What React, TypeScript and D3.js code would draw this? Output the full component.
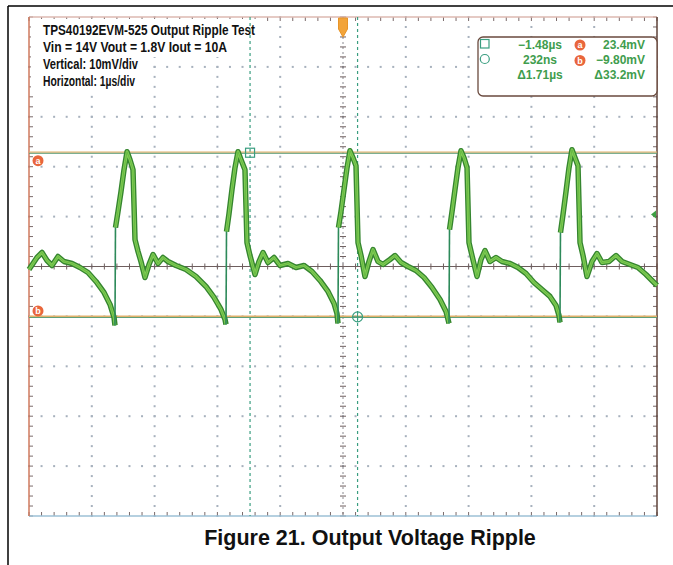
import * as d3 from 'd3';

const W = 673;
const H = 565;
const SCREEN = { left: 29, right: 657, top: 17, bottom: 516 };

// scope settings: 1 µs/div, 10 mV/div, 10 x 10 divisions
const timeDomain: [number, number] = [-5, 5];
const voltDomain: [number, number] = [-50, 50];

const titleLines = [
  'TPS40192EVM-525 Output Ripple Test',
  'Vin = 14V  Vout = 1.8V  Iout = 10A',
  'Vertical: 10mV/div',
  'Horizontal: 1µs/div',
];
const caption = 'Figure 21. Output Voltage Ripple';

// cursors as placed on screen (time in µs, level in mV)
const cursorTimes = [-1.48, 0.232];
const cursorLevels = [22.8, -10.1];
const cursorNames = ['a', 'b'];
const readoutTime = ['\u22121.48µs', '232ns', '\u03941.71µs'];
const readoutVolt = ['23.4mV', '\u22129.80mV', '\u039433.2mV'];

// output ripple trace [µs, mV]
const trace: [number, number][] = [
  [-5.0, -0.6], [-4.936, 0.6], [-4.873, 1.8], [-4.793, 2.8], [-4.713, 1.2], [-4.634, 0.2],
  [-4.538, 2.0], [-4.443, 1.0], [-4.315, 0.6], [-4.188, -0.2], [-4.061, -1.2], [-3.933, -3.0],
  [-3.806, -5.2], [-3.71, -7.6], [-3.646, -10.2], [-3.631, -11.8],
  [-3.623, 7.8], [-3.583, 11.0], [-3.535, 15.0], [-3.487, 19.4], [-3.439, 23.0], [-3.392, 21.4],
  [-3.344, 19.4], [-3.312, 5.4], [-3.264, 3.0], [-3.217, 1.0], [-3.153, -2.2], [-3.089, 0.4],
  [-3.025, 2.4], [-2.946, 0.6], [-2.866, 1.8], [-2.787, 1.0], [-2.659, 0.2], [-2.5, -0.6],
  [-2.341, -2.0], [-2.182, -4.0], [-2.054, -6.2], [-1.943, -8.6], [-1.879, -10.6], [-1.863, -11.6],
  [-1.855, 7.0], [-1.815, 10.6], [-1.768, 15.4], [-1.72, 19.8], [-1.672, 23.0], [-1.624, 21.4],
  [-1.561, 19.4], [-1.529, 4.8], [-1.481, 2.2], [-1.401, -1.6], [-1.338, 1.0], [-1.274, 2.8],
  [-1.194, 0.8], [-1.099, 1.8], [-1.003, 0.2], [-0.876, 0.6], [-0.748, -0.2], [-0.621, 0.2],
  [-0.494, -1.0], [-0.366, -2.8], [-0.239, -5.0], [-0.143, -7.4], [-0.096, -9.4], [-0.08, -11.4],
  [-0.072, 7.8], [-0.032, 11.0], [0.016, 15.4], [0.064, 19.8], [0.111, 23.2], [0.159, 21.8],
  [0.207, 20.2], [0.239, 4.8], [0.287, 2.2], [0.35, -2.0], [0.414, 1.0], [0.478, 3.4],
  [0.557, 1.0], [0.637, 0.4], [0.748, 1.4], [0.828, 2.2], [0.924, 0.8], [1.035, 0.0],
  [1.162, -0.8], [1.29, -2.2], [1.417, -4.2], [1.545, -6.6], [1.64, -9.0], [1.688, -11.4],
  [1.696, 7.4], [1.736, 11.0], [1.783, 15.4], [1.831, 19.8], [1.879, 23.2], [1.927, 21.8],
  [1.975, 19.8], [2.006, 4.8], [2.054, 2.2], [2.134, -2.0], [2.197, 1.4], [2.261, 3.2],
  [2.341, 1.0], [2.436, 1.8], [2.532, 1.0], [2.659, 0.6], [2.787, -0.2], [2.914, -1.4],
  [3.041, -3.2], [3.169, -4.6], [3.296, -6.0], [3.392, -7.8], [3.439, -9.8], [3.455, -11.2],
  [3.463, 6.8], [3.503, 10.4], [3.551, 15.0], [3.599, 19.8], [3.646, 23.4], [3.694, 21.8],
  [3.742, 20.2], [3.774, 4.8], [3.822, 2.2], [3.885, -2.0], [3.965, 1.0], [4.045, 2.6],
  [4.124, 0.8], [4.236, 1.0], [4.347, 2.2], [4.443, 1.0], [4.57, 0.4], [4.697, -0.2],
  [4.825, -1.6], [4.92, -2.8], [5.0, -3.8],
];

const ORANGE = '#e9663c';
const CURSOR = '#3a9e80';
const READOUT = '#3f9d4e';

const App = () => {
  const x = d3.scaleLinear().domain(timeDomain).range([SCREEN.left, SCREEN.right]);
  const y = d3.scaleLinear().domain(voltDomain).range([SCREEN.bottom, SCREEN.top]);

  const majorX = d3.range(-5, 6, 1);
  const majorY = d3.range(-50, 60, 10);
  const minorX = d3.range(0, 51).map(i => -5 + i * 0.2);
  const minorY = d3.range(0, 51).map(i => -50 + i * 2);

  const x0 = x(0);
  const y0 = y(0);

  // split the trace at the switching edges: the band is drawn thick, edges thin
  const isEdge = (p: [number, number], n?: [number, number]) => !!n && n[0] - p[0] < 0.02 && n[1] - p[1] > 10;
  const pieces: [number, number][][] = [[]];
  trace.forEach((p, i) => {
    pieces[pieces.length - 1].push(p);
    if (isEdge(p, trace[i + 1])) pieces.push([]);
  });
  const edges = trace
    .map((p, i) => [p, trace[i + 1]] as [number, number][])
    .filter(([p, n]) => isEdge(p, n));

  const line = d3.line<[number, number]>().x(d => x(d[0])).y(d => y(d[1]));

  const dots: JSX.Element[] = [];
  majorX.filter(t => t !== 0 && Math.abs(t) !== 5).forEach(t => {
    minorY.forEach((v, j) => {
      dots.push(<rect key={`vx${t}_${j}`} x={x(t) - 1} y={y(v) - 1} width={2} height={2} fill="#a7b1bd" />);
    });
  });
  majorY.filter(v => v !== 0 && Math.abs(v) !== 50).forEach(v => {
    minorX.forEach((t, j) => {
      dots.push(<rect key={`hy${v}_${j}`} x={x(t) - 1} y={y(v) - 1} width={2} height={2} fill="#a7b1bd" />);
    });
  });

  const titleWidths = [212, 184, 95, 92];

  return (
    <svg width={W} height={H} style={{ position: 'absolute', left: 0, top: 0, background: '#fff' }}>
      {/* page frame */}
      <line x1={8} x2={W} y1={6} y2={6} stroke="#000" strokeWidth={1.5} />
      <line x1={8} x2={8} y1={6} y2={H} stroke="#000" strokeWidth={1.5} />

      {/* graticule */}
      <g>{dots}</g>

      {/* center axes */}
      <line x1={SCREEN.left} x2={SCREEN.right} y1={y0} y2={y0} stroke="#6e5e5e" strokeWidth={1} />
      {minorX.map((t, i) => (
        <line key={`cx${i}`} x1={x(t)} x2={x(t)} y1={y0 - 3} y2={y0 + 3} stroke="#6e5e5e" strokeWidth={1} />
      ))}
      <line x1={x0} x2={x0} y1={SCREEN.top} y2={SCREEN.bottom} stroke="#8a8a90" strokeWidth={1} strokeDasharray="2,3" />
      {minorY.map((v, i) => (
        <line key={`cy${i}`} x1={x0 - 3} x2={x0 + 3} y1={y(v)} y2={y(v)} stroke="#6e5e5e" strokeWidth={1} />
      ))}

      {/* border ticks */}
      {minorY.map((v, i) => (
        <g key={`by${i}`} stroke="#7a6a6a" strokeWidth={1}>
          <line x1={SCREEN.left} x2={SCREEN.left + 4} y1={y(v)} y2={y(v)} />
          <line x1={SCREEN.right - 4} x2={SCREEN.right} y1={y(v)} y2={y(v)} />
        </g>
      ))}
      {minorX.map((t, i) => (
        <g key={`bx${i}`} stroke="#7a6a6a" strokeWidth={1}>
          <line x1={x(t)} x2={x(t)} y1={SCREEN.top} y2={SCREEN.top + 4} />
          <line x1={x(t)} x2={x(t)} y1={SCREEN.bottom - 4} y2={SCREEN.bottom} />
        </g>
      ))}
      <line x1={SCREEN.left} x2={SCREEN.right} y1={SCREEN.top} y2={SCREEN.top} stroke="#dcb8b0" strokeWidth={1.5} />
      <line x1={SCREEN.left} x2={SCREEN.right} y1={SCREEN.bottom} y2={SCREEN.bottom} stroke="#9cc0d6" strokeWidth={1.5} />
      <line x1={SCREEN.left} x2={SCREEN.left} y1={SCREEN.top} y2={SCREEN.bottom} stroke="#cf7a5e" strokeWidth={1.5} />
      <line x1={SCREEN.right} x2={SCREEN.right} y1={SCREEN.top} y2={SCREEN.bottom} stroke="#5e4238" strokeWidth={1.5} />

      {/* title block */}
      <rect x={31} y={19} width={226} height={38} fill="#fff" />
      <rect x={31} y={57} width={120} height={33} fill="#fff" />
      {titleLines.map((s, i) => (
        <text key={s} x={43} y={35 + i * 17} fontFamily="'Liberation Sans', Arial, sans-serif" fontWeight="bold"
          fontSize={14} textLength={titleWidths[i]} lengthAdjust="spacingAndGlyphs" fill="#111">{s}</text>
      ))}

      {/* vertical time cursors */}
      {cursorTimes.map(t => (
        <line key={`ct${t}`} x1={x(t)} x2={x(t)} y1={SCREEN.top} y2={SCREEN.bottom} stroke={CURSOR} strokeWidth={1.2} strokeDasharray="3,3" />
      ))}

      {/* horizontal level cursors */}
      {cursorLevels.map((v, i) => (
        <g key={`cl${i}`}>
          <line x1={SCREEN.left} x2={SCREEN.right} y1={y(v) - 0.6} y2={y(v) - 0.6} stroke="#e2b26c" strokeWidth={1.4} />
          <line x1={SCREEN.left} x2={SCREEN.right} y1={y(v) + 0.6} y2={y(v) + 0.6} stroke="#5f9e78" strokeWidth={1} />
          <circle cx={38} cy={y(v) + (i === 0 ? 8 : -6)} r={5.5} fill={ORANGE} />
          <text x={38} y={y(v) + (i === 0 ? 8 : -6) + 3.2} textAnchor="middle" fontFamily="Arial, sans-serif"
            fontWeight="bold" fontSize={9} fill="#fff">{cursorNames[i]}</text>
        </g>
      ))}

      {/* trace */}
      <g fill="none" strokeLinejoin="round">
        {pieces.map((p, i) => (
          <path key={`o${i}`} d={line(p) || ''} stroke="#35862f" strokeWidth={5.5} />
        ))}
        {pieces.map((p, i) => (
          <path key={`i${i}`} d={line(p) || ''} stroke="#82cc55" strokeWidth={2.8} />
        ))}
        {pieces.map((p, i) => (
          <path key={`c${i}`} d={line(p) || ''} stroke="#5fb63f" strokeWidth={0.8} />
        ))}
        {edges.map(([p, n], i) => (
          <line key={`e${i}`} x1={x(p[0])} x2={x(n[0])} y1={y(p[1])} y2={y(n[1])} stroke="#2d8a5a" strokeWidth={1.6} />
        ))}
      </g>

      {/* cursor intersection marks */}
      <rect x={x(cursorTimes[0]) - 4.5} y={y(cursorLevels[0]) - 4.5} width={9} height={9} fill="none" stroke={CURSOR} strokeWidth={1.2} />
      <circle cx={x(cursorTimes[1])} cy={y(cursorLevels[1])} r={5} fill="none" stroke={CURSOR} strokeWidth={1.2} />
      <line x1={x(cursorTimes[1]) - 5} x2={x(cursorTimes[1]) + 5} y1={y(cursorLevels[1])} y2={y(cursorLevels[1])} stroke={CURSOR} strokeWidth={1} />
      <line x1={x(cursorTimes[1])} x2={x(cursorTimes[1])} y1={y(cursorLevels[1]) - 5} y2={y(cursorLevels[1]) + 5} stroke={CURSOR} strokeWidth={1} />

      {/* trigger position marker */}
      <path d={`M${x0 - 4.5},${SCREEN.top + 1} h9 v11 l-4.5,8 l-4.5,-8 Z`} fill="#f2a43a" stroke="#e89428" strokeWidth={1} strokeLinejoin="round" />
      {/* channel level marker */}
      <path d={`M${SCREEN.right - 6},${y(10.4)} l5,-4 v8 Z`} fill="#3ea043" />

      {/* cursor readout */}
      <rect x={478} y={37} width={179} height={59} rx={5} fill="#fff" stroke="#6a4a3e" strokeWidth={1.3} />
      <rect x={480.5} y={39.5} width={8.5} height={8.5} fill="none" stroke={CURSOR} strokeWidth={1.2} />
      <circle cx={484.8} cy={59} r={4.5} fill="none" stroke={CURSOR} strokeWidth={1.2} />
      {readoutTime.map((s, i) => (
        <text key={s} x={540} y={49 + i * 15} textAnchor="middle" fontFamily="'Liberation Sans', Arial, sans-serif"
          fontWeight="bold" fontSize={12} fill={READOUT}>{s}</text>
      ))}
      {readoutVolt.map((s, i) => (
        <text key={s} x={645} y={49 + i * 15} textAnchor="end" fontFamily="'Liberation Sans', Arial, sans-serif"
          fontWeight="bold" fontSize={12} fill={READOUT}>{s}</text>
      ))}
      {cursorNames.map((n, i) => (
        <g key={`rn${n}`}>
          <circle cx={580} cy={45 + i * 15.5} r={5.5} fill={ORANGE} />
          <text x={580} y={48.2 + i * 15.5} textAnchor="middle" fontFamily="Arial, sans-serif" fontWeight="bold" fontSize={9} fill="#fff">{n}</text>
        </g>
      ))}

      {/* caption */}
      <text x={370} y={545} textAnchor="middle" fontFamily="'Liberation Sans', Arial, sans-serif" fontWeight="bold" fontSize={21.5} fill="#111">{caption}</text>
    </svg>
  );
};

export default App;
